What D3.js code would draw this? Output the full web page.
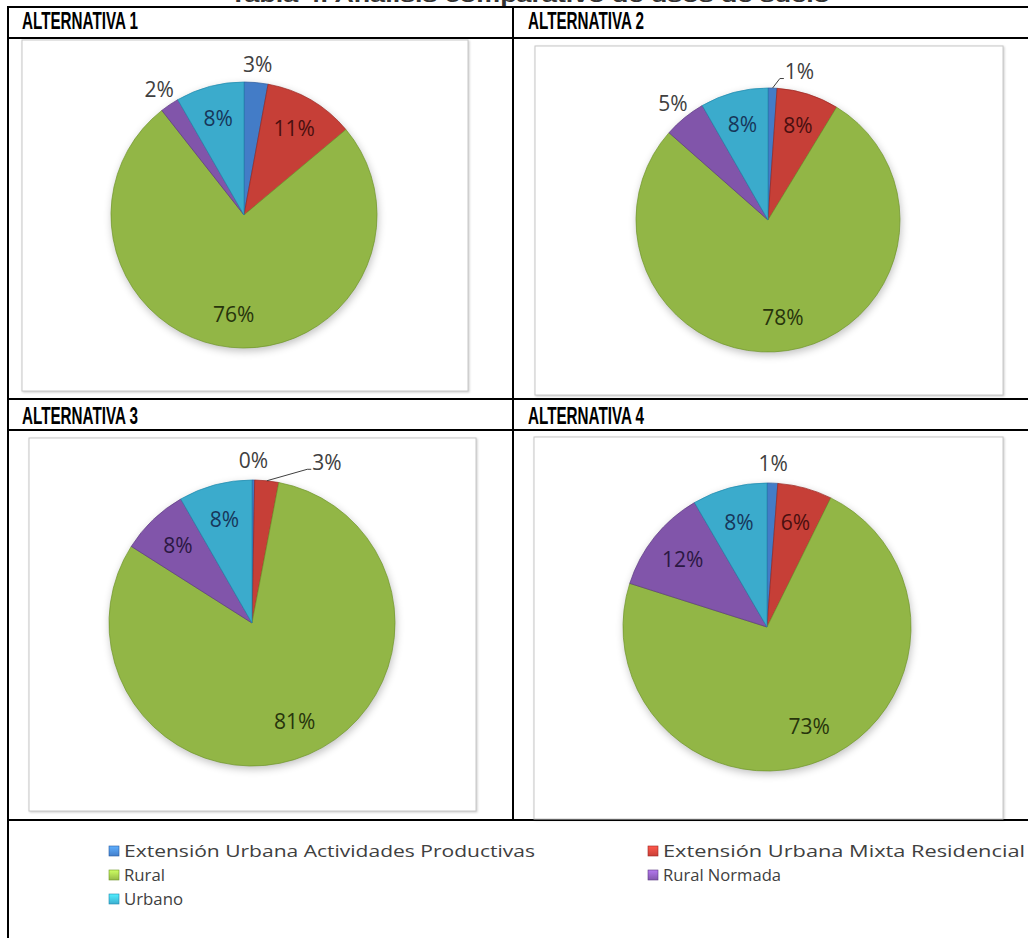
<!DOCTYPE html>
<html>
<head>
<meta charset="utf-8">
<script src="https://cdn.jsdelivr.net/npm/d3@7"></script>
<style>
  html, body { margin: 0; padding: 0; background: #fff; }
  svg { display: block; }
</style>
</head>
<body>
<svg id="chart" width="1028" height="938"></svg>
<script>
// land-use categories (legend order = slice order, clockwise from 12 o'clock)
const categories = [
  "Extensión Urbana Actividades Productivas",
  "Extensión Urbana Mixta Residencial",
  "Rural",
  "Rural Normada",
  "Urbano"
]
const alternatives = ["ALTERNATIVA 1", "ALTERNATIVA 2", "ALTERNATIVA 3", "ALTERNATIVA 4"]

// share of each category (%)
const alt1Values = [2.9, 11.0, 75.5, 2.3, 8.3]
const alt2Values = [1.1, 7.6, 77.8, 5.2, 8.3]
const alt3Values = [0.3, 2.7, 81.0, 7.7, 8.3]
const alt4Values = [1.2, 6.1, 72.6, 11.7, 8.4]

const tableTitle = "Tabla 4. Análisis comparativo de usos de suelo"

const baseColors = ["#4f92ea", "#e84a40", "#acd652", "#9764c8", "#45c9f0"]
const edgeColors = ["#2a5a9e", "#9a2623", "#6f9528", "#5c3a82", "#2089ad"]
const insideText = ["#14305a", "#4a0f0f", "#27340c", "#2b1842", "#17365a"]

const edge = d3.scaleOrdinal().domain(categories).range(edgeColors)
const inkInside = d3.scaleOrdinal().domain(categories).range(insideText)

// panel layout (boxes, pie centre and radius)
const panels = [
  { values: alt1Values, head: [22, 29], box: [22, 40, 468, 391], cx: 244, cy: 215, r: 133 },
  { values: alt2Values, head: [528, 29], box: [535, 46, 1003, 395], cx: 768, cy: 220, r: 132,
    callout: { index: 0, angle: 12, dist: 1.15 } },
  { values: alt3Values, head: [22, 424], box: [29, 438, 476, 811], cx: 252, cy: 623, r: 143,
    callout: { index: 1, angle: 25, dist: 1.24 } },
  { values: alt4Values, head: [528, 424], box: [534, 437, 1003, 819], cx: 767, cy: 627, r: 144 }
]

const svg = d3.select('#chart')
const defs = svg.append('defs')

const blur = defs.append('filter').attr('id', 'softBlur')
  .attr('x', '-20%').attr('y', '-20%').attr('width', '140%').attr('height', '140%')
blur.append('feGaussianBlur').attr('stdDeviation', 4)

const boxShadow = defs.append('filter').attr('id', 'boxShadow')
  .attr('color-interpolation-filters', 'sRGB')
  .attr('x', '-5%').attr('y', '-5%').attr('width', '110%').attr('height', '110%')
boxShadow.append('feGaussianBlur').attr('in', 'SourceAlpha').attr('stdDeviation', 1.2)
boxShadow.append('feOffset').attr('dx', 1).attr('dy', 1)
boxShadow.append('feComponentTransfer').append('feFuncA').attr('type', 'linear').attr('slope', 0.2)
const bm = boxShadow.append('feMerge')
bm.append('feMergeNode')
bm.append('feMergeNode').attr('in', 'SourceGraphic')

const headFont = '"Liberation Sans Narrow", "Liberation Sans", Arial, sans-serif'

// title, cut off by the top of the page as in the source
svg.append('text')
  .attr('x', 530).attr('y', 2)
  .attr('text-anchor', 'middle')
  .attr('fill', '#333')
  .attr('textLength', 600).attr('lengthAdjust', 'spacingAndGlyphs')
  .style('font-family', headFont)
  .style('font-weight', 'bold')
  .style('font-size', '19px')
  .text(tableTitle)

// table grid
const grid = svg.append('g').attr('stroke', '#000').attr('stroke-width', 2)
;[7, 38, 399, 430, 820].forEach(function(y) {
  grid.append('line').attr('x1', 7).attr('x2', 1028).attr('y1', y).attr('y2', y)
})
grid.append('line').attr('x1', 8).attr('x2', 8).attr('y1', 6).attr('y2', 938)
grid.append('line').attr('x1', 513).attr('x2', 513).attr('y1', 6).attr('y2', 821)

const pie = d3.pie().sort(null).value(d => d.value)

panels.forEach(function(p, pi) {
  svg.append('text')
    .attr('x', p.head[0]).attr('y', p.head[1])
    .attr('textLength', 116).attr('lengthAdjust', 'spacingAndGlyphs')
    .style('font-family', headFont)
    .style('font-weight', 'bold')
    .style('font-size', '24px')
    .text(alternatives[pi])

  svg.append('rect')
    .attr('x', p.box[0]).attr('y', p.box[1])
    .attr('width', p.box[2] - p.box[0]).attr('height', p.box[3] - p.box[1])
    .attr('fill', '#fff').attr('stroke', '#c8c8c8').attr('stroke-width', 1)
    .attr('filter', 'url(#boxShadow)')

  // per-pie radial gradients for the bevelled look
  categories.forEach(function(c, ci) {
    const g = defs.append('radialGradient')
      .attr('id', 'grad' + pi + '_' + ci)
      .attr('gradientUnits', 'userSpaceOnUse')
      .attr('cx', p.cx).attr('cy', p.cy).attr('r', p.r)
    g.append('stop').attr('offset', '0%').attr('stop-color', d3.color(baseColors[ci]).brighter(0.2))
    g.append('stop').attr('offset', '90%').attr('stop-color', baseColors[ci])
    g.append('stop').attr('offset', '97%').attr('stop-color', d3.color(baseColors[ci]).darker(0.1))
    g.append('stop').attr('offset', '100%').attr('stop-color', d3.color(baseColors[ci]).darker(0.45))
  })

  const rows = categories.map((c, i) => ({ cat: c, idx: i, value: p.values[i] }))
  const arcs = pie(rows)
  const arc = d3.arc().innerRadius(0).outerRadius(p.r)
  const g = svg.append('g').attr('transform', 'translate(' + p.cx + ',' + p.cy + ')')

  // soft shadow under the pie
  g.append('circle')
    .attr('cx', 1).attr('cy', 3).attr('r', p.r)
    .attr('fill', '#000').attr('opacity', 0.25)
    .attr('filter', 'url(#softBlur)')

  g.append('g')
    .selectAll('path')
    .data(arcs)
    .join('path')
    .attr('d', arc)
    .attr('fill', d => 'url(#grad' + pi + '_' + d.data.idx + ')')
    .attr('stroke', d => edge(d.data.cat))
    .attr('stroke-width', 0.7)
    .attr('stroke-linejoin', 'round')

  const inArc = d3.arc().innerRadius(p.r * 0.75).outerRadius(p.r * 0.75)
  const outArc = d3.arc().innerRadius(p.r * 1.14).outerRadius(p.r * 1.14)

  arcs.forEach(function(d) {
    const outside = d.data.value < 5.5
    let pos = outside ? outArc.centroid(d) : inArc.centroid(d)
    const isCallout = p.callout && p.callout.index === d.data.idx
    if (isCallout) {
      const a = p.callout.angle * Math.PI / 180
      pos = [Math.sin(a) * p.r * p.callout.dist, -Math.cos(a) * p.r * p.callout.dist]
    }
    const t = g.append('text')
      .attr('x', pos[0]).attr('y', pos[1])
      .attr('dy', '0.36em')
      .attr('text-anchor', 'middle')
      .attr('fill', outside ? '#404040' : inkInside(d.data.cat))
      .style('font-family', '"Open Sans", "Noto Sans", sans-serif')
      .style('font-size', '21px')
      .text(Math.round(d.data.value) + '%')

    if (isCallout) {
      const w = t.node().getComputedTextLength()
      const mid = (d.startAngle + d.endAngle) / 2
      const sx = Math.sin(mid) * p.r, sy = -Math.cos(mid) * p.r
      const ex = pos[0] - w / 2 - 1, ey = pos[1] + 7
      g.append('polyline')
        .attr('points', [[sx, sy], [ex - 4, ey], [ex, ey]].map(q => q.join(',')).join(' '))
        .attr('fill', 'none').attr('stroke', '#404040').attr('stroke-width', 1)
    }
  })
})

// legend
const legendCol = d3.scaleOrdinal().domain([0, 1]).range([109, 648])
const legendRow = d3.scaleLinear().domain([0, 1]).range([851, 875])
const legendTextWidth = [411, 362, 41, 118, 59]

categories.forEach(function(c, i) {
  const x = legendCol(i % 2), y = legendRow(Math.floor(i / 2))
  const lg = defs.append('linearGradient').attr('id', 'lg' + i)
    .attr('x1', 0).attr('y1', 0).attr('x2', 0).attr('y2', 1)
  lg.append('stop').attr('offset', '0%').attr('stop-color', d3.color(baseColors[i]).brighter(0.5))
  lg.append('stop').attr('offset', '100%').attr('stop-color', d3.color(baseColors[i]).darker(0.4))
  svg.append('rect')
    .attr('x', x).attr('y', y - 5)
    .attr('width', 10).attr('height', 10)
    .attr('fill', 'url(#lg' + i + ')')
    .attr('stroke', edge(c)).attr('stroke-width', 0.6)
  svg.append('text')
    .attr('x', x + 15).attr('y', y)
    .attr('dy', '0.35em')
    .attr('fill', '#404040')
    .attr('textLength', legendTextWidth[i]).attr('lengthAdjust', 'spacingAndGlyphs')
    .style('font-family', '"Open Sans", "Noto Sans", sans-serif')
    .style('font-size', '17px')
    .text(c)
})
</script>
</body>
</html>
